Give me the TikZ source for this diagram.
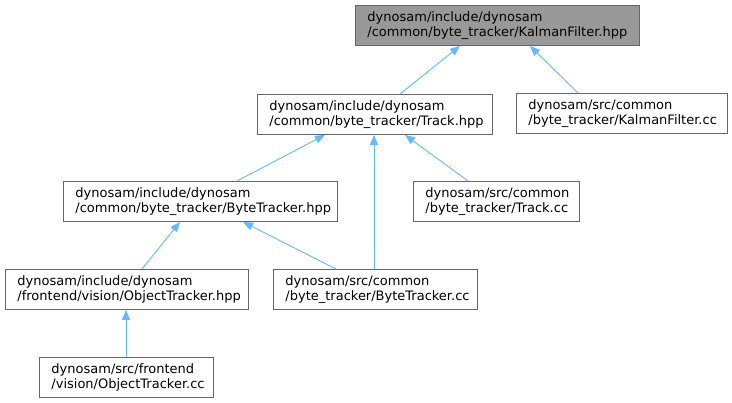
\documentclass[tikz,border=0pt]{standalone}
\usepackage{fontspec}
\setmainfont{DejaVu Sans}
\usetikzlibrary{arrows.meta}
\definecolor{edgeblue}{HTML}{63B8FF}
\definecolor{boxborder}{HTML}{666666}
\definecolor{hlfill}{HTML}{999999}
\begin{document}
\begin{tikzpicture}[x=1pt,y=-1pt,
  box/.style={draw=boxborder, line width=0.9pt, fill=white, anchor=north west,
    inner xsep=12pt, inner ysep=0pt, minimum height=40pt, align=left,
    font=\fontsize{13}{15.5}\selectfont},
  dep/.style={draw=edgeblue, line width=0.9pt, -{Triangle[length=10pt,width=8pt]}}]
\useasboundingbox (0,0) rectangle (732,403);
\node[box, fill=hlfill, text width=260pt] (kf) at (355,5) {dynosam/include/dynosam\\/common/byte\_tracker/KalmanFilter.hpp};
\node[box, text width=211pt] (track) at (257,94) {dynosam/include/dynosam\\/common/byte\_tracker/Track.hpp};
\node[box, text width=187pt] (kfcc) at (516,93) {dynosam/src/common\\/byte\_tracker/KalmanFilter.cc};
\node[box, text width=250pt] (bth) at (63,181) {dynosam/include/dynosam\\/common/byte\_tracker/ByteTracker.hpp};
\node[box, text width=142pt] (tcc) at (413,181) {dynosam/src/common\\/byte\_tracker/Track.cc};
\node[box, text width=219pt] (oth) at (5,269) {dynosam/include/dynosam\\/frontend/vision/ObjectTracker.hpp};
\node[box, text width=180pt] (btcc) at (273,269) {dynosam/src/common\\/byte\_tracker/ByteTracker.cc};
\node[box, text width=150pt] (otcc) at (39,357) {dynosam/src/frontend\\/vision/ObjectTracker.cc};
\draw[dep] ([xshift=143pt]track.north west) -- ([xshift=105pt]kf.south west);
\draw[dep] ([xshift=62pt]kfcc.north west) -- ([xshift=175pt]kf.south west);
\draw[dep] ([xshift=174pt]bth.north west) -- ([xshift=68pt]track.south west);
\draw[dep] ([xshift=101pt]btcc.north west) -- ([xshift=117pt]track.south west);
\draw[dep] ([xshift=55pt]tcc.north west) -- ([xshift=148pt]track.south west);
\draw[dep] ([xshift=137pt]oth.north west) -- ([xshift=117pt]bth.south west);
\draw[dep] ([xshift=63pt]btcc.north west) -- ([xshift=180pt]bth.south west);
\draw[dep] ([xshift=87pt]otcc.north west) -- ([xshift=121pt]oth.south west);
\end{tikzpicture}
\end{document}
